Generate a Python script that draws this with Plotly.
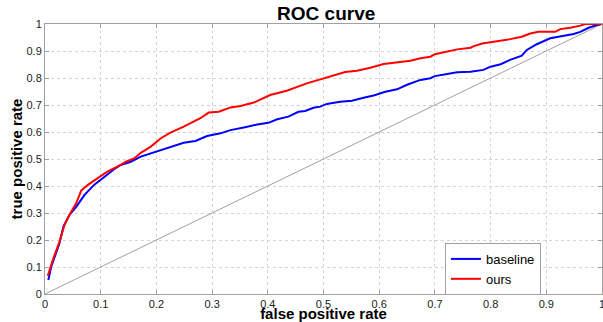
import plotly.graph_objects as go

# ---- data ----
baseline_fpr = [0.006, 0.011, 0.026, 0.033, 0.044, 0.056, 0.071, 0.088, 0.107, 0.124,
                0.136, 0.154, 0.172, 0.19, 0.208, 0.229, 0.249, 0.27, 0.291, 0.315,
                0.333, 0.357, 0.381, 0.401, 0.417, 0.437, 0.455, 0.467, 0.482, 0.494,
                0.506, 0.53, 0.551, 0.572, 0.59, 0.611, 0.632, 0.65, 0.674, 0.692,
                0.7, 0.722, 0.74, 0.764, 0.787, 0.8, 0.818, 0.835, 0.856, 0.865,
                0.883, 0.907, 0.925, 0.949, 0.961, 0.976, 0.991, 1.0]
baseline_tpr = [0.052, 0.10, 0.188, 0.25, 0.293, 0.323, 0.367, 0.404, 0.434, 0.462,
                0.478, 0.49, 0.509, 0.521, 0.533, 0.548, 0.56, 0.567, 0.585, 0.595,
                0.607, 0.617, 0.628, 0.634, 0.647, 0.657, 0.675, 0.678, 0.69, 0.694,
                0.704, 0.712, 0.716, 0.727, 0.735, 0.749, 0.758, 0.775, 0.793, 0.799,
                0.807, 0.815, 0.821, 0.823, 0.83, 0.842, 0.851, 0.867, 0.883, 0.904,
                0.925, 0.947, 0.953, 0.963, 0.971, 0.986, 0.996, 1.0]

ours_fpr = [0.005, 0.014, 0.026, 0.035, 0.047, 0.056, 0.065, 0.077, 0.094, 0.112,
            0.136, 0.145, 0.16, 0.172, 0.19, 0.208, 0.225, 0.249, 0.279, 0.294,
            0.312, 0.333, 0.351, 0.375, 0.404, 0.434, 0.47, 0.494, 0.518, 0.539,
            0.56, 0.584, 0.608, 0.638, 0.656, 0.674, 0.692, 0.7, 0.722, 0.74,
            0.764, 0.77, 0.785, 0.805, 0.835, 0.856, 0.871, 0.886, 0.916, 0.925,
            0.943, 0.961, 0.97, 1.0]
ours_tpr = [0.067, 0.126, 0.194, 0.256, 0.305, 0.336, 0.383, 0.404, 0.428, 0.453,
            0.478, 0.49, 0.502, 0.523, 0.546, 0.577, 0.598, 0.62, 0.651, 0.672,
            0.675, 0.691, 0.696, 0.709, 0.737, 0.753, 0.78, 0.795, 0.811, 0.822,
            0.827, 0.838, 0.852, 0.86, 0.864, 0.873, 0.879, 0.888, 0.898, 0.906,
            0.912, 0.918, 0.928, 0.934, 0.944, 0.953, 0.965, 0.971, 0.971, 0.981,
            0.986, 0.994, 1.0, 1.0]

chance_x = [0, 1]
chance_y = [0, 1]

tick_vals = [0, 0.1, 0.2, 0.3, 0.4, 0.5, 0.6, 0.7, 0.8, 0.9, 1]
tick_text = ["0", "0.1", "0.2", "0.3", "0.4", "0.5", "0.6", "0.7", "0.8", "0.9", "1"]

FONT = "Liberation Sans, Arial, sans-serif"
AXIS_COLOR = "#a0a0a0"
GRID_COLOR = "#d4d4d4"

fig = go.Figure()
fig.add_trace(go.Scatter(x=chance_x, y=chance_y, mode="lines",
                         line=dict(color="#a0a0a0", width=1),
                         showlegend=False, hoverinfo="skip"))
fig.add_trace(go.Scatter(x=baseline_fpr, y=baseline_tpr, mode="lines", name="baseline",
                         line=dict(color="#0000ff", width=2)))
fig.add_trace(go.Scatter(x=ours_fpr, y=ours_tpr, mode="lines", name="ours",
                         line=dict(color="#ff0000", width=2)))

axis_common = dict(
    range=[0, 1], tickvals=tick_vals, ticktext=tick_text,
    showgrid=True, gridcolor=GRID_COLOR, griddash="dot", gridwidth=1,
    showline=True, linecolor=AXIS_COLOR, linewidth=1, mirror="ticks",
    ticks="inside", ticklen=4, tickcolor=AXIS_COLOR,
    zeroline=False, tickfont=dict(family=FONT, size=11, color="#222"),
    fixedrange=True, automargin=False, ticklabeloverflow="allow",
)

fig.update_layout(
    width=603, height=322, autosize=False,
    margin=dict(l=45, r=1, t=24, b=28),
    paper_bgcolor="white", plot_bgcolor="white",
    title=dict(text="<b>ROC curve</b>", x=0.541, xanchor="center",
               y=0.96, yanchor="middle",
               font=dict(family=FONT, size=19, color="black")),
    xaxis=dict(**axis_common,
               title=dict(text="<b>false positive rate</b>", standoff=0,
                          font=dict(family=FONT, size=15, color="black"))),
    yaxis=dict(**axis_common,
               title=dict(text="<b>true positive rate</b>", standoff=0,
                          font=dict(family=FONT, size=15, color="black"))),
    legend=dict(x=0.718, y=0.189, xanchor="left", yanchor="top",
                bgcolor="white", bordercolor="#a0a0a0", borderwidth=1,
                font=dict(family=FONT, size=13, color="black"),
                itemwidth=30, tracegroupgap=0),
    showlegend=True,
)

fig.write_html("out.html", config={"displayModeBar": False},
               post_script="document.body.style.margin='0';document.body.style.padding='0';")
